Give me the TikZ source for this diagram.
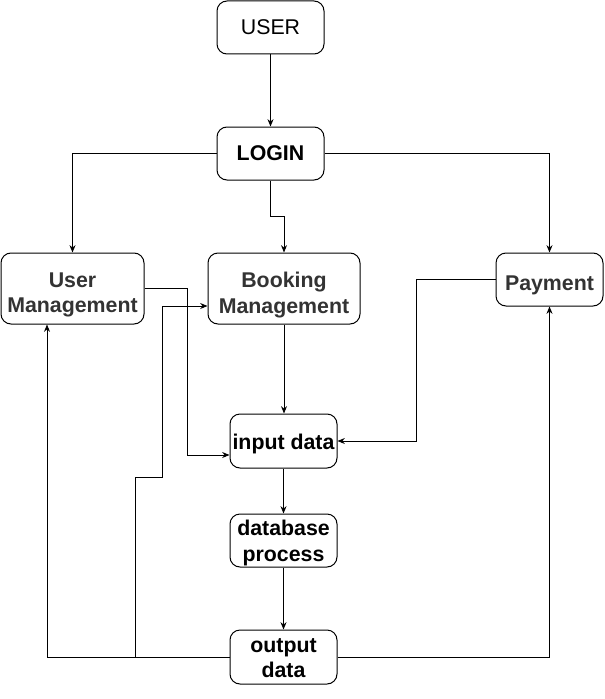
\documentclass[tikz,border=0pt]{standalone}
\usepackage{fontspec}
\setmainfont{Liberation Sans}
\usetikzlibrary{arrows.meta}
\definecolor{txtgray}{HTML}{333333}
\begin{document}
\begin{tikzpicture}[x=0.75pt,y=-0.75pt,
  box/.style={draw=black,line width=0.75pt,rounded corners=7.5pt,inner sep=0pt},
  txt/.style={inner sep=0pt,align=center,font=\fontsize{16}{18.9}\selectfont},
  btxt/.style={txt,font=\fontsize{16}{18.9}\selectfont\bfseries},
  arr/.style={-{Stealth[length=5.5pt,width=4.5pt]},line width=0.75pt},
  ln/.style={line width=0.75pt}]
\useasboundingbox (0,0) rectangle (604,699);
\node[box,minimum width=80.25pt,minimum height=39.75pt] (user) at (270.5,27.5) {};
\node[box,minimum width=80.25pt,minimum height=39.75pt] (login) at (270.5,153.5) {};
\node[box,minimum width=107.25pt,minimum height=53.25pt] (um) at (72.5,288.5) {};
\node[box,minimum width=114pt,minimum height=53.25pt] (bm) at (284,288.5) {};
\node[box,minimum width=80.25pt,minimum height=39.75pt] (pay) at (549.5,279.5) {};
\node[box,minimum width=80.25pt,minimum height=40.5pt] (inp) at (283.5,441) {};
\node[box,minimum width=80.25pt,minimum height=39.75pt] (db) at (283.5,540.5) {};
\node[box,minimum width=80.25pt,minimum height=40.5pt] (out) at (283.5,657) {};

\node[txt] (usert) at (270.5,27.5) {USER};
\node[btxt] (logint) at (270.5,153.5) {LOGIN};
\node[btxt,text=txtgray] (umt) at (72.5,295) {User\\Management};
\node[btxt,text=txtgray] (bmt) at (284,295) {Booking\\Management};
\node[btxt,text=txtgray] (payt) at (549.5,285.5) {Payment};
\node[btxt] (inpt) at (283.5,444) {input data};
\node[btxt] (dbt) at (283.5,543) {database\\process};
\node[btxt] (outt) at (283.5,658.5) {output\\data};

\coordinate (br) at (135,657);

\draw[arr] (user) -- (login);
\draw[arr] (login.west) -| (um.north);
\draw[arr] (login.east) -| (pay.north);
\draw[arr] (login.south) -- (login.south |- 0,216) -| (bm.north);
\draw[arr] (um.east) -| (187,455) -- (inp.west |- 0,455);
\draw[arr] (bm.south) -- (bm.south |- inp.north);
\draw[arr] (pay.west) -| (416,441) -- (inp.east);
\draw[arr] (inp) -- (db);
\draw[arr] (db) -- (out);
\draw[arr] (out.west) -| (um.south -| 47,0);
\draw[arr] (br) -- (135,477) -- (162,477) -- (162,306) -- (bm.west |- 0,306);
\draw[arr] (out.east) -| (pay.south);
\end{tikzpicture}
\end{document}
